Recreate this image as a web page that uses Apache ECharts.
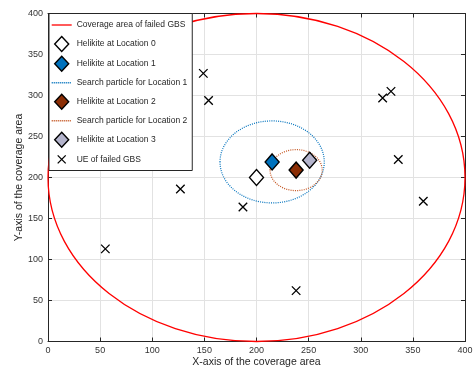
<!DOCTYPE html>
<html><head><meta charset="utf-8">
<script src="https://cdn.jsdelivr.net/npm/echarts@6/dist/echarts.min.js"></script>
<style>html,body{margin:0;padding:0;background:#fff}#c{width:473px;height:368px}</style>
</head><body><div id="c"></div>
<script>
// circles: [centerX, centerY, radius]
const coverageCircle = [[200, 200, 200]];
const searchCircle1 = [[215, 219, 50]];
const searchCircle2 = [[238, 209, 25]];
// helikite locations
const loc0 = [[200, 200]];
const loc1 = [[215, 219]];
const loc2 = [[238, 209]];
const loc3 = [[251, 221]];
// UEs of failed GBS
const ueX = [55, 127, 149, 154, 187, 238, 321, 329, 336, 360];
const ueY = [113, 186, 327, 294, 164, 62, 297, 305, 222, 171];
const axisTicks = [0, 50, 100, 150, 200, 250, 300, 350, 400];

const FONT = 'Liberation Sans, Arial, Helvetica, sans-serif';
const ueData = ueX.map((x, i) => [x, ueY[i]]);

function ellipseRender(color, width, dash) {
  return function (params, api) {
    const c = api.coord([api.value(0), api.value(1)]);
    const r = api.value(2);
    const s = api.size([r, r]);
    return {
      type: 'ellipse',
      shape: { cx: c[0], cy: c[1], rx: s[0], ry: s[1] },
      style: { fill: 'none', stroke: color, lineWidth: width, lineDash: dash }
    };
  };
}
// legend icon paths padded to a 20x15 box so each row has the same height
function dotPath(n, step, w, h) {
  let p = 'path://M0,-7.5M20,7.5';
  for (let i = 0; i < n; i++) p += 'M' + (i * step) + ',-0.6h' + w + 'v' + h + 'h-' + w + 'z';
  return p;
}
const LINE_ICON = 'path://M0,-7.5M20,7.5M0,-0.65h20v1.3h-20z';
const BLUE = '#0072BD', BROWN = '#C4541F', RED = '#FF0000';
const DIAMOND_ICON = 'path://M-10,0M10,0M0,-7.5L7,0L0,7.5L-7,0Z';

const tickMin = axisTicks[0], tickMax = axisTicks[axisTicks.length - 1], tickStep = axisTicks[1] - axisTicks[0];
function baseAxis(extra) {
  return Object.assign({
    type: 'value', min: tickMin, max: tickMax, interval: tickStep,
    nameMoveOverlap: false,
    axisLine: { show: true, onZero: false, lineStyle: { color: '#262626', width: 1 } },
    axisTick: { show: true, inside: true, length: 4, lineStyle: { color: '#262626' } },
    axisLabel: { show: true, fontSize: 9, color: '#333', fontFamily: FONT, margin: 5 },
    splitLine: { show: true, lineStyle: { color: '#e2e2e2', width: 1 } }
  }, extra);
}

const chart = echarts.init(document.getElementById('c'), null, { renderer: 'canvas' });
chart.setOption({
  animation: false,
  backgroundColor: '#fff',
  grid: { left: 48, right: 8, top: 13.5, bottom: 26.5, containLabel: false, outerBoundsMode: 'none' },
  xAxis: [
    baseAxis({ position: 'bottom', name: 'X-axis of the coverage area', nameLocation: 'middle', nameGap: 15,
      nameTextStyle: { fontSize: 10.5, color: '#262626', fontFamily: FONT } }),
    baseAxis({ position: 'top', axisLabel: { show: false }, splitLine: { show: false } })
  ],
  yAxis: [
    baseAxis({ position: 'left', name: 'Y-axis of the coverage area', nameLocation: 'middle', nameGap: 23,
      nameTextStyle: { fontSize: 10.5, color: '#262626', fontFamily: FONT } }),
    baseAxis({ position: 'right', axisLabel: { show: false }, splitLine: { show: false } })
  ],
  legend: {
    orient: 'vertical', left: 49, top: 13.5, padding: [4, 5, 3, 2], itemGap: 3.3,
    itemWidth: 20, itemHeight: 15, backgroundColor: '#fff', borderColor: '#262626', borderWidth: 1,
    borderRadius: 0, selectedMode: false, symbolKeepAspect: true,
    textStyle: { fontSize: 8.5, color: '#262626', fontFamily: FONT },
    data: [
      { name: 'Coverage area of failed GBS', icon: LINE_ICON, itemStyle: { color: RED, borderWidth: 0 } },
      { name: 'Helikite at Location 0', icon: DIAMOND_ICON, itemStyle: { color: '#ffffff', borderColor: '#000', borderWidth: 1.4 } },
      { name: 'Helikite at Location 1', icon: DIAMOND_ICON, itemStyle: { color: BLUE, borderColor: '#000', borderWidth: 1.4 } },
      { name: 'Search particle for Location 1', icon: dotPath(10, 2, 1.1, 1.3), itemStyle: { color: BLUE, borderWidth: 0 } },
      { name: 'Helikite at Location 2', icon: DIAMOND_ICON, itemStyle: { color: '#8B2E05', borderColor: '#000', borderWidth: 1.4 } },
      { name: 'Search particle for Location 2', icon: dotPath(10, 2, 1.1, 1.3), itemStyle: { color: BROWN, borderWidth: 0 } },
      { name: 'Helikite at Location 3', icon: DIAMOND_ICON, itemStyle: { color: '#B4B4CC', borderColor: '#000', borderWidth: 1.4 } },
      { name: 'UE of failed GBS', icon: 'path://M-10,-7.5M10,7.5M-4,-4L4,4M4,-4L-4,4', itemStyle: { color: 'transparent', borderColor: '#000', borderWidth: 1.3 } }
    ]
  },
  series: [
    { name: 'Coverage area of failed GBS', type: 'custom', data: coverageCircle, encode: { x: 0, y: 1 },
      itemStyle: { color: RED }, renderItem: ellipseRender(RED, 1.3, null), clip: false },
    { name: 'Helikite at Location 0', type: 'scatter', data: loc0, symbol: 'diamond', symbolSize: [14, 16],
      itemStyle: { color: '#ffffff', borderColor: '#000', borderWidth: 1.4, opacity: 1 } },
    { name: 'Helikite at Location 1', type: 'scatter', data: loc1, symbol: 'diamond', symbolSize: [14, 16],
      itemStyle: { color: BLUE, borderColor: '#000', borderWidth: 1.4, opacity: 1 } },
    { name: 'Search particle for Location 1', type: 'custom', data: searchCircle1, encode: { x: 0, y: 1 },
      itemStyle: { color: BLUE }, renderItem: ellipseRender(BLUE, 1.2, [1, 1.2]), clip: false },
    { name: 'Helikite at Location 2', type: 'scatter', data: loc2, symbol: 'diamond', symbolSize: [14, 16],
      itemStyle: { color: '#8B2E05', borderColor: '#000', borderWidth: 1.4, opacity: 1 } },
    { name: 'Search particle for Location 2', type: 'custom', data: searchCircle2, encode: { x: 0, y: 1 },
      itemStyle: { color: BROWN }, renderItem: ellipseRender(BROWN, 1.2, [1, 1.2]), clip: false },
    { name: 'Helikite at Location 3', type: 'scatter', data: loc3, symbol: 'diamond', symbolSize: [14, 16],
      itemStyle: { color: '#B4B4CC', borderColor: '#000', borderWidth: 1.4, opacity: 1 } },
    { name: 'UE of failed GBS', type: 'scatter', data: ueData, symbol: 'path://M0,0L10,10M10,0L0,10', symbolSize: 8.5,
      itemStyle: { color: 'transparent', borderColor: '#000', borderWidth: 1.3, opacity: 1 } }
  ]
});
</script>
</body></html>
